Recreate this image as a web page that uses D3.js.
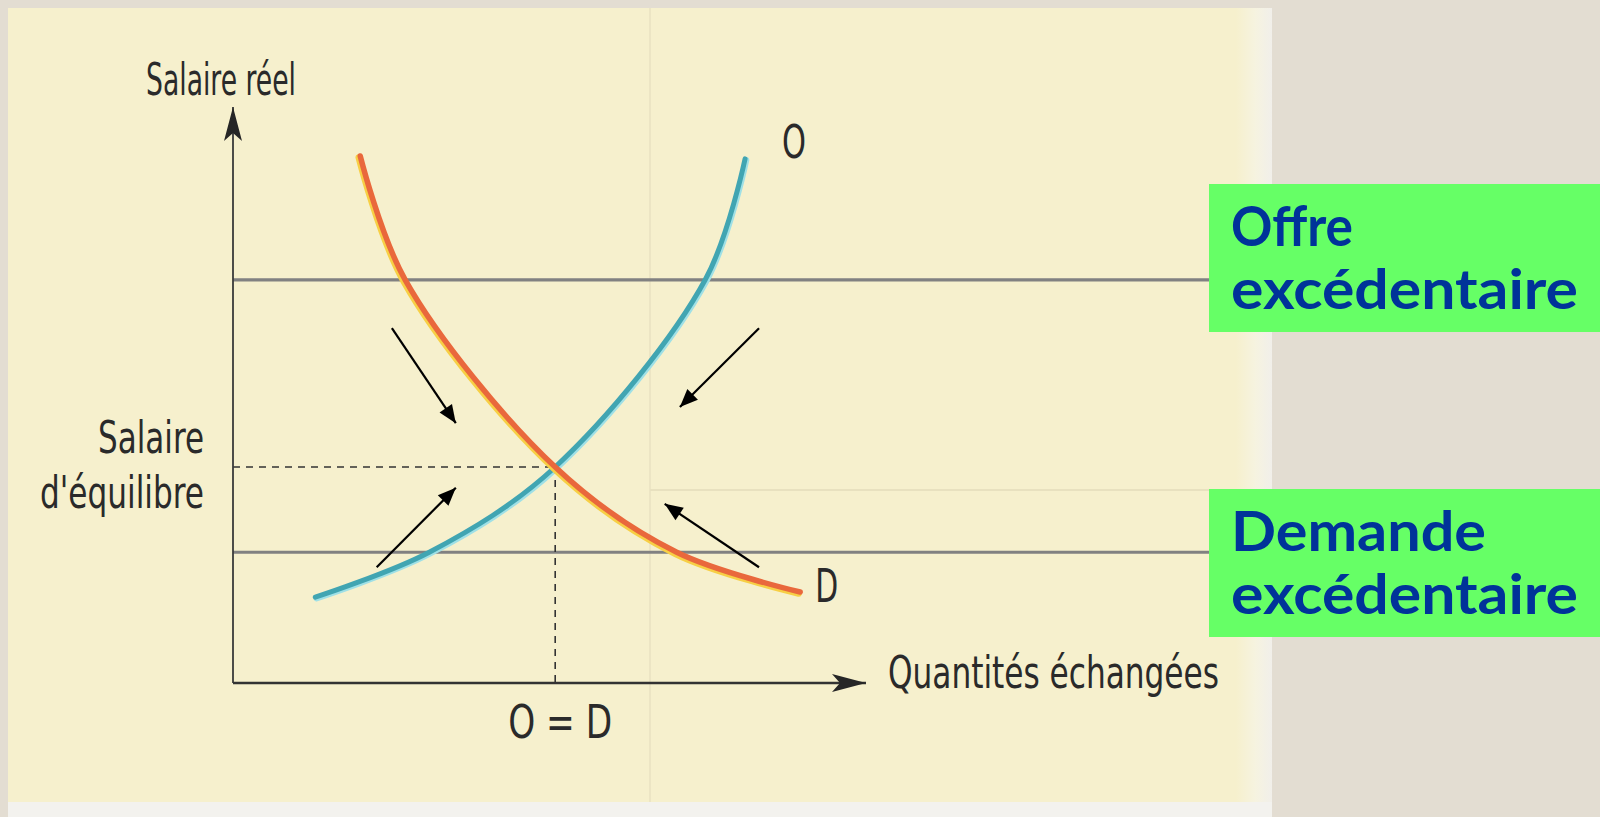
<!DOCTYPE html>
<html>
<head>
<meta charset="utf-8">
<script src="https://cdn.jsdelivr.net/npm/d3@7"></script>
<style>
  html, body { margin: 0; padding: 0; background: #e3ddd2; }
  svg { display: block; }
</style>
</head>
<body>
<svg id="chart" width="1600" height="817"></svg>
<script>
// ---------- DATA ----------
// Supply curve "O" (quantity, real wage) in chart units (0-100)
const supplyQ = [13, 31, 50.9, 74.6, 80.9];
const supplyW = [14.9, 22.7, 37.5, 70, 91];
// Demand curve "D"
const demandQ = [20.1, 27.2, 50.9, 70.1, 89.6];
const demandW = [91.5, 70.0, 37.5, 22.7, 15.8];
// Equilibrium
const eqQ = 50.9, eqW = 37.5;
// Wage levels of excess supply / excess demand lines
const excessW = [70, 22.7];
const excessLabels = [["Offre", "excédentaire"], ["Demande", "excédentaire"]];
// Adjustment arrows (from -> to)
const arrowFromQ = [25.1, 83.1, 22.7, 83.1];
const arrowFromW = [61.6, 61.6, 20.1, 20.1];
const arrowToQ   = [35.2, 70.6, 35.2, 68.2];
const arrowToW   = [45.1, 47.9, 33.9, 31.1];
// Texts
const yAxisLabel = "Salaire réel";
const xAxisLabel = "Quantités échangées";
const eqWLabel = ["Salaire", "d'équilibre"];
const eqQLabel = "O = D";
const curveLabels = ["O", "D"];

// ---------- SETUP ----------
const svg = d3.select("#chart");
const W = 1600, H = 817;
const x = d3.scaleLinear().domain([0, 100]).range([233, 866]);
const y = d3.scaleLinear().domain([0, 100]).range([683, 107]);

const defs = svg.append("defs");
defs.append("linearGradient").attr("id", "edge").attr("x1", 0).attr("x2", 1)
  .selectAll("stop").data([["0%", "#f6f0cd"], ["55%", "#f6f3e0"], ["100%", "#f1efea"]])
  .join("stop").attr("offset", d => d[0]).attr("stop-color", d => d[1]);

// axis arrowhead (notched)
defs.append("marker").attr("id", "axisHead")
  .attr("markerUnits", "userSpaceOnUse").attr("orient", "auto")
  .attr("viewBox", "-36 -10 38 20").attr("markerWidth", 38).attr("markerHeight", 20)
  .attr("refX", 0).attr("refY", 0)
  .append("path").attr("d", "M0,0 L-34,-9 L-26,0 L-34,9 Z").attr("fill", "#262626");
// small arrowhead
defs.append("marker").attr("id", "smallHead")
  .attr("markerUnits", "userSpaceOnUse").attr("orient", "auto")
  .attr("viewBox", "-19 -9 21 18").attr("markerWidth", 21).attr("markerHeight", 18)
  .attr("refX", 0).attr("refY", 0)
  .append("path").attr("d", "M0,0 L-18,-7.5 L-18,7.5 Z").attr("fill", "#000");

// ---------- PAGE BACKGROUND ----------
svg.append("rect").attr("width", W).attr("height", H).attr("fill", "#e3ddd2");
svg.append("rect").attr("x", 8).attr("y", 8).attr("width", 1264).attr("height", 809).attr("fill", "#f3f2ee");
svg.append("rect").attr("x", 8).attr("y", 8).attr("width", 1236).attr("height", 794).attr("fill", "#f6f0cd");
svg.append("rect").attr("x", 1236).attr("y", 8).attr("width", 36).attr("height", 794).attr("fill", "url(#edge)");

// faint column rules of the scanned page
svg.append("line").attr("x1", 650).attr("x2", 650).attr("y1", 8).attr("y2", 802)
  .attr("stroke", "#ece5c4").attr("stroke-width", 2);
svg.append("line").attr("x1", 650).attr("x2", 1236).attr("y1", 490).attr("y2", 490)
  .attr("stroke", "#e8e1bf").attr("stroke-width", 2);

// ---------- CHART ----------
const labelFont = "'Liberation Sans Narrow', 'DejaVu Sans Condensed', 'DejaVu Sans', sans-serif";
const g = svg.append("g");

// excess lines (grey)
const boxX = 1209;
g.selectAll("line.excess").data(excessW).join("line").attr("class", "excess")
  .attr("x1", x(0)).attr("x2", boxX).attr("y1", d => y(d)).attr("y2", d => y(d))
  .attr("stroke", "#818181").attr("stroke-width", 3.2);

// dashed equilibrium lines
g.append("line").attr("x1", x(0)).attr("x2", x(eqQ)).attr("y1", y(eqW)).attr("y2", y(eqW))
  .attr("stroke", "#333").attr("stroke-width", 1.6).attr("stroke-dasharray", "7,6");
g.append("line").attr("x1", x(eqQ)).attr("x2", x(eqQ)).attr("y1", y(eqW)).attr("y2", y(0))
  .attr("stroke", "#333").attr("stroke-width", 1.6).attr("stroke-dasharray", "7,6");

// axes
g.append("line").attr("x1", x(0)).attr("x2", x(0)).attr("y1", y(0)).attr("y2", y(100))
  .attr("stroke", "#3a3a3a").attr("stroke-width", 1.8).attr("marker-end", "url(#axisHead)");
g.append("line").attr("x1", x(0)).attr("x2", x(100)).attr("y1", y(0)).attr("y2", y(0))
  .attr("stroke", "#333").attr("stroke-width", 2.5).attr("marker-end", "url(#axisHead)");

// curves
const line = d3.line().x(d => x(d[0])).y(d => y(d[1])).curve(d3.curveCatmullRom.alpha(0.5));
const supply = supplyQ.map((q, i) => [q, supplyW[i]]);
const demand = demandQ.map((q, i) => [q, demandW[i]]);

g.append("path").attr("d", line(supply)).attr("fill", "none")
  .attr("stroke", "#9fe0e6").attr("stroke-width", 6).attr("stroke-linecap", "round")
  .attr("transform", "translate(1.2,1.2)");
g.append("path").attr("d", line(supply)).attr("fill", "none")
  .attr("stroke", "#41a5b2").attr("stroke-width", 5).attr("stroke-linecap", "round");

g.append("path").attr("d", line(demand)).attr("fill", "none")
  .attr("stroke", "#f7cf45").attr("stroke-width", 6.5).attr("stroke-linecap", "round")
  .attr("transform", "translate(-1.5,1.5)");
g.append("path").attr("d", line(demand)).attr("fill", "none")
  .attr("stroke", "#e9683c").attr("stroke-width", 5.5).attr("stroke-linecap", "round");

// adjustment arrows
g.selectAll("line.adj").data(arrowFromQ).join("line").attr("class", "adj")
  .attr("x1", (d, i) => x(arrowFromQ[i])).attr("y1", (d, i) => y(arrowFromW[i]))
  .attr("x2", (d, i) => x(arrowToQ[i])).attr("y2", (d, i) => y(arrowToW[i]))
  .attr("stroke", "#000").attr("stroke-width", 2.2).attr("marker-end", "url(#smallHead)");

// labels (condensed via textLength to mimic the condensed book face)
const txt = g.append("g").attr("font-family", labelFont).attr("fill", "#2a2a2a");
function label(t, px, py, size, len, anchor) {
  return txt.append("text").attr("x", px).attr("y", py).attr("font-size", size)
    .attr("text-anchor", anchor || "start")
    .attr("textLength", len).attr("lengthAdjust", "spacingAndGlyphs").text(t);
}
label(yAxisLabel, 146, 95, 44, 150);
label(xAxisLabel, 888, 688, 44, 331);
label(eqWLabel[0], 204, 453, 45, 106, "end");
label(eqWLabel[1], 204, 508, 45, 164, "end");
label(eqQLabel, x(eqQ) + 5, 738, 46, 104, "middle");
label(curveLabels[0], x(supplyQ[supplyQ.length - 1]) + 37, 158, 46, 24);
label(curveLabels[1], x(demandQ[demandQ.length - 1]) + 15, 602, 46, 23);

// green annotation boxes
const boxTops = [184, 489];
const wordLen = { "Offre": 122, "Demande": 255, "excédentaire": 347 };
const boxes = svg.append("g");
boxes.selectAll("rect").data(boxTops).join("rect")
  .attr("x", boxX).attr("y", d => d).attr("width", W - boxX).attr("height", 148)
  .attr("fill", "#66ff66");
excessLabels.forEach((lines, i) => {
  boxes.selectAll("text.b" + i).data(lines).join("text").attr("class", "b" + i)
    .attr("x", 1231).attr("y", (d, j) => boxTops[i] + 62 + j * 63)
    .attr("font-family", "Lato, 'Noto Sans', sans-serif").attr("font-weight", 700)
    .attr("font-size", 55).attr("fill", "#003399")
    .attr("textLength", d => wordLen[d]).attr("lengthAdjust", "spacingAndGlyphs")
    .text(d => d);
});
</script>
</body>
</html>
